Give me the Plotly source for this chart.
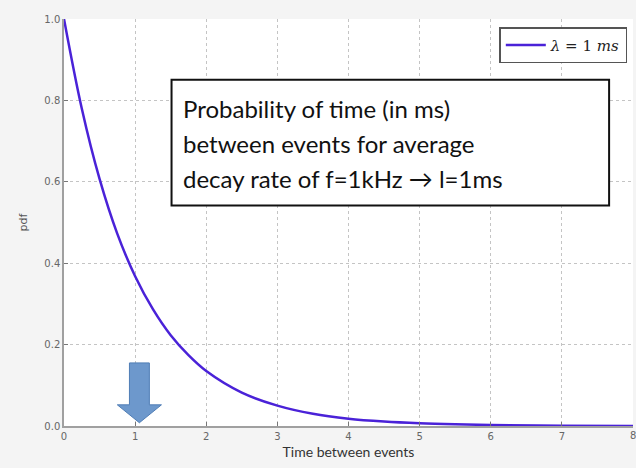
import plotly.graph_objects as go

# values (lambda = 1 ms exponential pdf)
t_ms = [0.0, 0.25, 0.5, 0.75, 1.0, 1.25, 1.5, 1.75, 2.0, 2.5, 3.0, 3.5, 4.0, 4.5, 5.0, 5.5, 6.0, 7.0, 8.0]
pdf_vals = [1.0, 0.78, 0.607, 0.472, 0.368, 0.287, 0.223, 0.174, 0.135, 0.082, 0.05, 0.030, 0.018, 0.011, 0.0067, 0.0041, 0.0025, 0.0009, 0.0003]
x_ticks = [0, 1, 2, 3, 4, 5, 6, 7, 8]
y_ticks = [0.0, 0.2, 0.4, 0.6, 0.8, 1.0]
y_tick_text = ["0.0", "0.2", "0.4", "0.6", "0.8", "1.0"]
box_lines = ["Probability of time (in ms)", "between events for average", "decay rate of f=1kHz → l=1ms"]

fig = go.Figure()
fig.add_trace(go.Scatter(
    x=t_ms, y=pdf_vals, mode="lines", line=dict(color="#4a22d8", width=2.5, shape="spline"),
    name="<i>λ</i> = 1 <i>ms</i>",
))

axis_common = dict(
    showgrid=True, gridcolor="#c4c4c4", griddash="dot", gridwidth=1,
    showline=True, linecolor="#a0a0a0", linewidth=1.5,
    ticks="inside", ticklen=4, tickcolor="#777",
    tickfont=dict(family="DejaVu Sans", size=10, color="#666"),
    zeroline=False,
)
fig.update_xaxes(range=[0, 8], tickvals=x_ticks, **axis_common,
                 title=dict(text="Time between events", font=dict(family="Lato", size=14, color="#333"), standoff=6))
fig.update_yaxes(range=[0, 1], tickvals=y_ticks, ticktext=y_tick_text, **axis_common,
                 title=dict(text="pdf", font=dict(family="DejaVu Sans", size=11, color="#555"), standoff=14))

# last x tick label, partly cut by the right edge as in the original
fig.add_annotation(xref="x", yref="paper", x=x_ticks[-1], y=0, yanchor="top", yshift=-2,
                   showarrow=False, text=str(x_ticks[-1]),
                   font=dict(family="DejaVu Sans", size=10, color="#666"))

# text box
fig.add_shape(type="rect", xref="paper", yref="paper", x0=0.189, x1=0.958, y0=0.542, y1=0.851,
              line=dict(color="#111", width=2), fillcolor="white", layer="above")
for i, line in enumerate(box_lines):
    fig.add_annotation(xref="paper", yref="paper", x=0.205, y=0.780 - i * 0.086, xanchor="left", yanchor="middle",
                       align="left", showarrow=False, text=line,
                       font=dict(family="Lato", size=24, color="#111"))

# block arrow pointing at t=1
ax, sw, hw = 1.06, 0.14, 0.31
ytop, yh, ytip = 0.155, 0.052, 0.008
path = (f"M {ax-sw} {ytop} L {ax+sw} {ytop} L {ax+sw} {yh} L {ax+hw} {yh} "
        f"L {ax} {ytip} L {ax-hw} {yh} L {ax-sw} {yh} Z")
fig.add_shape(type="path", xref="x", yref="y", path=path,
              fillcolor="#6d98cc", line=dict(color="#4f7db5", width=1), layer="above")

fig.update_layout(
    width=636, height=468,
    margin=dict(l=64, r=3, t=19, b=42),
    paper_bgcolor="#f4f4f4", plot_bgcolor="white",
    showlegend=True,
    legend=dict(x=0.99, y=0.98, xanchor="right", yanchor="top",
                bgcolor="white", bordercolor="#555", borderwidth=1.5,
                itemwidth=40,
                font=dict(family="DejaVu Serif", size=15, color="#222")),
)

fig.write_html("out.html")
